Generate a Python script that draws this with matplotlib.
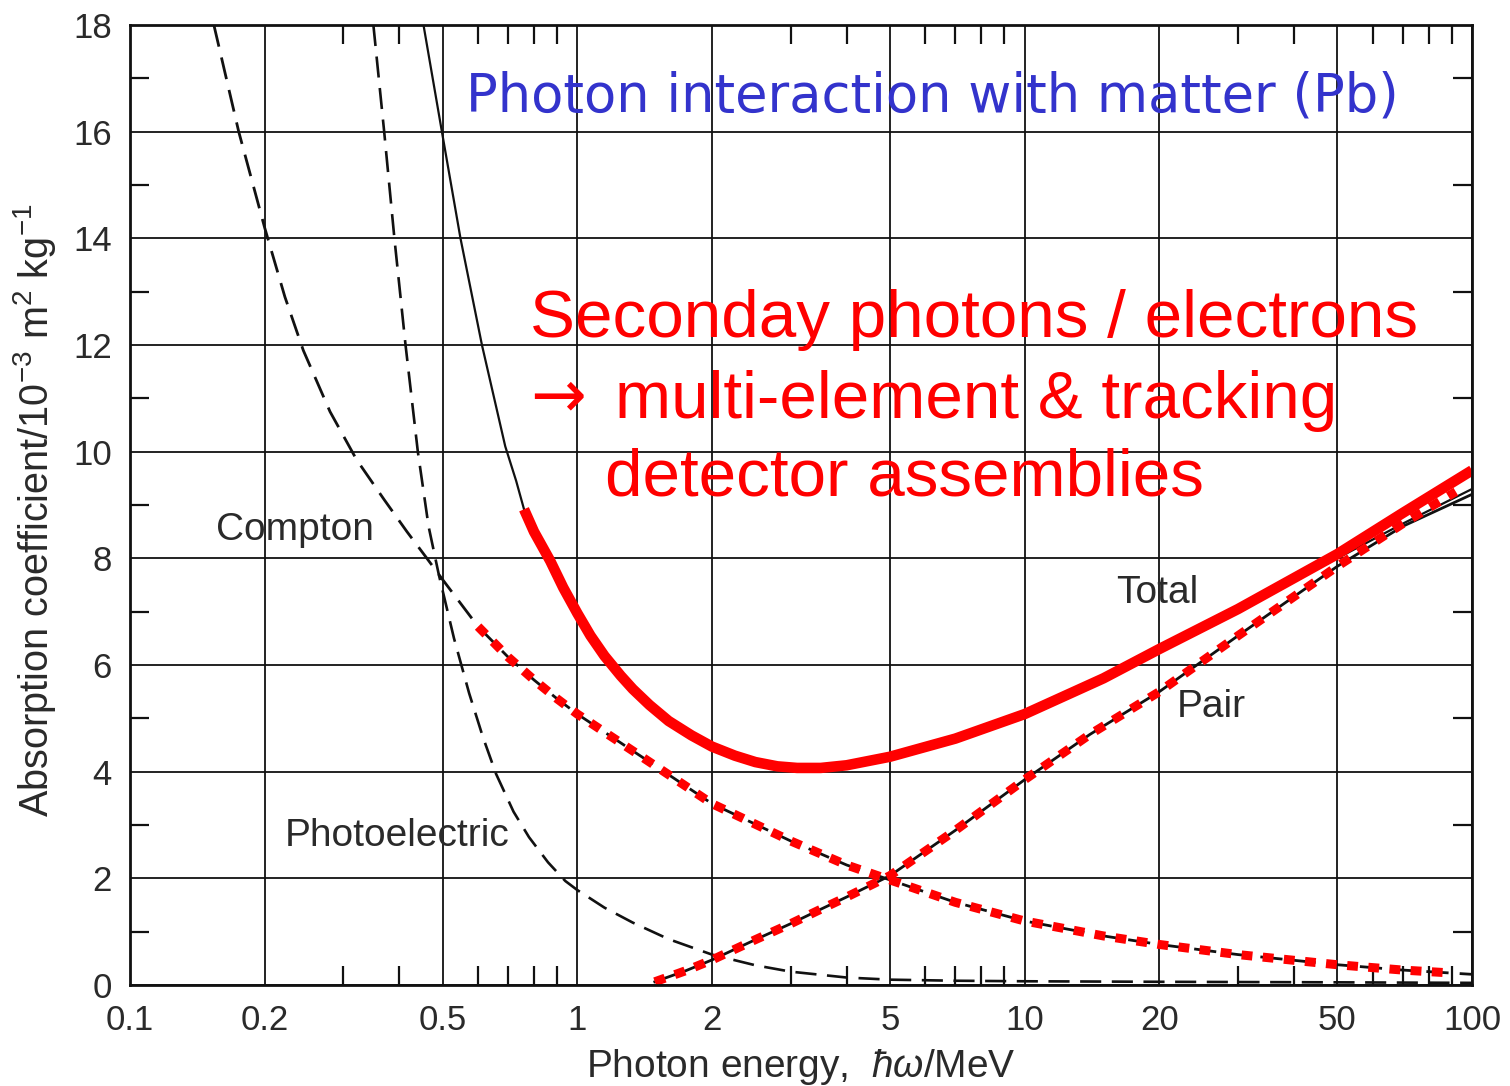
import matplotlib
matplotlib.use("Agg")
import matplotlib.pyplot as plt
from matplotlib.ticker import FixedLocator, NullFormatter

plt.rcParams['font.family'] = ['Liberation Sans', 'DejaVu Sans']
plt.rcParams['mathtext.fontset'] = 'custom'
plt.rcParams['mathtext.rm'] = 'Liberation Sans'
plt.rcParams['mathtext.it'] = 'Liberation Sans:italic'

# ---------------- data ----------------
x_ticks = [0.1, 0.2, 0.5, 1, 2, 5, 10, 20, 50, 100]
x_ticklabels = ["0.1", "0.2", "0.5", "1", "2", "5", "10", "20", "50", "100"]
x_minor = [0.3, 0.4, 0.6, 0.7, 0.8, 0.9, 3, 4, 6, 7, 8, 9, 30, 40, 60, 70, 80, 90]
y_ticks = [0, 2, 4, 6, 8, 10, 12, 14, 16, 18]
y_minor = [1, 3, 5, 7, 9, 11, 13, 15, 17]

compton_x = [0.154, 0.175, 0.2, 0.222, 0.244, 0.28, 0.321, 0.37, 0.416, 0.461, 0.5,
             0.6, 0.7, 0.8, 0.9, 1.0, 1.5, 2, 3, 4, 5, 7, 10, 15, 20, 30, 50, 70, 100]
compton_y = [18, 16, 14.2, 12.9, 11.9, 10.75, 9.85, 9.1, 8.5, 8.0, 7.6,
             6.72, 6.15, 5.72, 5.37, 5.08, 4.1, 3.4, 2.7, 2.25, 1.97, 1.55, 1.2, 0.92,
             0.76, 0.57, 0.38, 0.28, 0.2]

photo_x = [0.35, 0.37, 0.39, 0.413, 0.44, 0.465, 0.49, 0.53, 0.573, 0.615, 0.658, 0.72,
           0.78, 0.86, 0.94, 1.0, 1.15, 1.33, 1.6, 2.0, 2.5, 3.0, 4.0, 5.0, 7, 10, 20, 50, 100]
photo_y = [18, 16, 14, 12, 10, 8.6, 7.7, 6.5, 5.47, 4.65, 3.96, 3.25,
           2.77, 2.3, 1.95, 1.78, 1.45, 1.17, 0.86, 0.57, 0.37, 0.25, 0.14, 0.1, 0.08,
           0.07, 0.06, 0.05, 0.04]

total_x = [0.453, 0.498, 0.548, 0.612, 0.69, 0.73, 0.76, 0.8, 0.87, 0.93, 1.0, 1.07, 1.15,
           1.25, 1.33, 1.45, 1.6, 1.8, 2.0, 2.25, 2.5, 2.8, 3.1, 3.5, 4.0, 5.0, 7.0, 10,
           15, 20, 30, 50, 70, 100]
total_y = [18, 16, 14, 12, 10.1, 9.45, 8.92, 8.5, 7.95, 7.45, 6.97, 6.55, 6.17,
           5.8, 5.55, 5.25, 4.95, 4.68, 4.47, 4.3, 4.18, 4.1, 4.07, 4.07, 4.12, 4.28, 4.62, 5.08,
           5.75, 6.3, 7.05, 8.0, 8.65, 9.3]

pair_x = [1.49, 1.75, 2, 2.5, 3, 3.5, 4, 5, 7, 10, 14, 20, 30, 50, 70, 100]
pair_y = [0.06, 0.27, 0.47, 0.85, 1.15, 1.42, 1.65, 2.05, 2.9, 3.85, 4.7, 5.5,
          6.55, 7.85, 8.6, 9.2]

hl_total_x = [0.76, 0.8, 0.87, 0.93, 1.0, 1.07, 1.15, 1.25, 1.33, 1.45, 1.6, 1.8, 2.0,
              2.25, 2.5, 2.8, 3.1, 3.5, 4.0, 5.0, 7.0, 10, 15, 20, 30, 50, 70, 100]
hl_total_y = [8.92, 8.5, 7.95, 7.45, 6.97, 6.55, 6.17, 5.8, 5.55, 5.25, 4.95, 4.68, 4.47,
              4.3, 4.18, 4.1, 4.07, 4.07, 4.12, 4.28, 4.62, 5.08, 5.75, 6.3, 7.05, 8.08,
              8.85, 9.65]

hl_pair_x = [1.49, 1.75, 2, 2.5, 3, 3.5, 4, 5, 7, 10, 14, 20, 30, 50, 70, 92]
hl_pair_y = [0.06, 0.27, 0.47, 0.85, 1.15, 1.42, 1.65, 2.05, 2.9, 3.85, 4.7, 5.5,
             6.55, 7.85, 8.65, 9.25]

hl_compton_x = [0.6, 0.7, 0.8, 0.9, 1.0, 1.5, 2, 3, 4, 5, 7, 10, 15, 20, 30, 50, 70, 88]
hl_compton_y = [6.72, 6.15, 5.72, 5.37, 5.08, 4.1, 3.4, 2.7, 2.25, 1.97, 1.55, 1.2, 0.92,
                0.76, 0.57, 0.38, 0.28, 0.23]

# ---------------- figure ----------------
fig = plt.figure(figsize=(15.1, 10.86), dpi=100)
ax = fig.add_axes([130/1510, 1-985/1086, 1342/1510, 960/1086])
ax.set_xscale('log')
ax.set_xlim(0.1, 100)
ax.set_ylim(0, 18)

ax.xaxis.set_major_locator(FixedLocator(x_ticks))
ax.set_xticklabels(x_ticklabels)
ax.xaxis.set_minor_locator(FixedLocator(x_minor))
ax.xaxis.set_minor_formatter(NullFormatter())
ax.yaxis.set_major_locator(FixedLocator(y_ticks))
ax.yaxis.set_minor_locator(FixedLocator(y_minor))

ax.grid(True, which='major', color='#111111', lw=1.3)
ax.tick_params(which='major', length=0, labelsize=25, labelcolor='#2a2a2a')
ax.tick_params(axis='x', which='major', pad=14)
ax.tick_params(axis='y', which='major', pad=13)
ax.tick_params(which='minor', direction='in', length=14, width=1.6, color='#111111',
               top=True, bottom=True, left=True, right=True)
for s in ax.spines.values():
    s.set_linewidth(2.0)
    s.set_color('#111111')

ax.set_xlabel("Photon energy,  $\\mathit{\u0127\u03c9}$/MeV", fontsize=28, color='#2a2a2a', labelpad=7)
ax.set_ylabel("Absorption coefficient/10$^{-3}$ m$^{2}$ kg$^{-1}$", fontsize=28.5, color='#2a2a2a')
ax.yaxis.set_label_coords(-0.0537, 0.495)

# black textbook curves
ax.plot(compton_x, compton_y, color='#111111', lw=2.0, ls=(0, (8, 4)))
ax.plot(photo_x, photo_y, color='#111111', lw=1.9, ls=(0, (8, 4)))
ax.plot(total_x, total_y, color='#111111', lw=1.6)
ax.plot(pair_x, pair_y, color='#111111', lw=2.0)

# red highlights
ax.plot(hl_total_x, hl_total_y, color='#ff0000', lw=7.6, solid_capstyle='butt', solid_joinstyle='round')
ax.plot(hl_pair_x, hl_pair_y, color='#ff0000', lw=6.5, ls=(0, (1.2, 1.15)), dash_capstyle='butt')
ax.plot(hl_compton_x, hl_compton_y, color='#ff0000', lw=6.5, ls=(0, (1.2, 1.15)), dash_capstyle='butt')

# curve labels
lab_kw = dict(fontsize=28, color='#2a2a2a', ha='center', va='center')
ax.text(0.234, 8.53, "Compton", **lab_kw)
ax.text(0.396, 2.79, "Photoelectric", **lab_kw)
ax.text(19.8, 7.35, "Total", **lab_kw)
ax.text(26.1, 5.21, "Pair", **lab_kw)

# annotations
fig.text(932/1510, 1-112/1086, "Photon interaction with matter (Pb)", fontsize=38,
         color='#3333cc', ha='center', va='baseline', family=['DejaVu Sans'])
red_kw = dict(fontsize=48.5, color='#ff0000', ha='left', va='baseline')
fig.text(530/1510, 1-337/1086, "Seconday photons / electrons", **red_kw)
fig.text(530/1510, 1-416/1086, "\u2192", fontsize=48, color='#ff0000', ha='left',
         va='baseline', family=['DejaVu Sans'])
fig.text(615/1510, 1-418/1086, "multi-element & tracking", **red_kw)
fig.text(605/1510, 1-495/1086, "detector assemblies", **red_kw)

fig.savefig("out.png", dpi=100)
